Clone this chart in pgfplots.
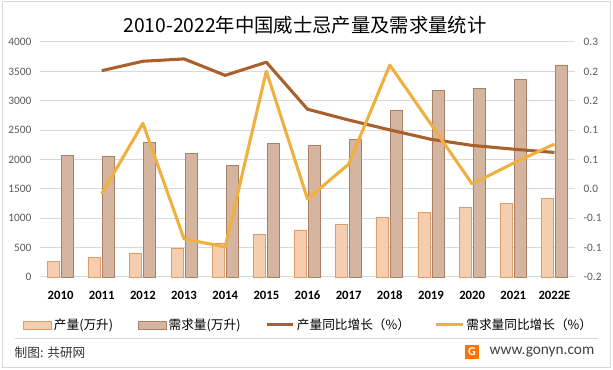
\documentclass[border=0pt]{standalone}
\usepackage{pgfplots}
\pgfplotsset{compat=1.18}
\usepackage{fontspec}
\setmainfont{Carlito}
\newfontfamily\cjk{Noto Sans CJK SC}
\definecolor{prodbar}{HTML}{F5CDAF}
\definecolor{prodbardraw}{HTML}{DE9A68}
\definecolor{dembar}{HTML}{D5B5A0}
\definecolor{dembardraw}{HTML}{A88068}
\definecolor{prodline}{HTML}{A9602A}
\definecolor{demline}{HTML}{F0B040}
\definecolor{gridc}{HTML}{D9D9D9}
\definecolor{tickc}{HTML}{595959}
\pgfplotsset{
  boxlegend/.style={legend image code/.code={\draw[##1] (0pt,-3pt) rectangle (21pt,3pt);}},
  linelegend/.style={legend image code/.code={\draw[##1] (0pt,0pt) -- (20pt,0pt);}},
}
\begin{document}
\begin{tikzpicture}
\useasboundingbox (0pt,0pt) rectangle (459.75pt,277.5pt);
\fill[white] (0pt,0pt) rectangle (459.75pt,277.5pt);
\draw[gridc, line width=0.75pt] (1.5pt,1.5pt) rectangle (457.5pt,276pt);
\node[font=\cjk\fontsize{14.5}{15}\selectfont, text=black] at (228.75pt,258.5pt) {2010-2022年中国威士忌产量及需求量统计};
\begin{axis}[at={(30pt,69.75pt)}, anchor=south west, scale only axis,
  width=401.25pt, height=176.25pt,
  xmin=-0.5, xmax=12.5, ymin=0, ymax=4000,
  ytick={0,500,...,4000},
  xtick={0,...,12},
  xticklabels={2010,2011,2012,2013,2014,2015,2016,2017,2018,2019,2020,2021,2022E},
  axis line style={draw=none}, major tick length=0pt,
  ymajorgrids, grid style={gridc, line width=0.75pt},
  /pgf/number format/assume math mode=true,
  /pgf/number format/set thousands separator={},
  yticklabel style={font=\fontsize{8.5}{9}\selectfont, text=tickc, xshift=-3pt},
  xticklabel style={font=\bfseries\fontsize{9.5}{10}\selectfont, text=black, yshift=-7pt},
  clip=false]
\addplot[ybar, bar width=9pt, bar shift=-5.25pt, fill=prodbar, draw=prodbardraw, line width=0.6pt]
  coordinates {(0,260) (1,330) (2,400) (3,480) (4,580) (5,720) (6,800) (7,900) (8,1010) (9,1100) (10,1180) (11,1250) (12,1330)};
\addplot[ybar, bar width=9pt, bar shift=5.25pt, fill=dembar, draw=dembardraw, line width=0.6pt]
  coordinates {(0,2070) (1,2050) (2,2290) (3,2100) (4,1900) (5,2270) (6,2240) (7,2340) (8,2830) (9,3170) (10,3210) (11,3360) (12,3610)};
\end{axis}
\begin{axis}[at={(30pt,69.75pt)}, anchor=south west, scale only axis,
  width=401.25pt, height=176.25pt,
  xmin=-0.5, xmax=12.5, ymin=-0.2, ymax=0.3,
  xtick=\empty,
  ytick={-0.2,-0.1375,-0.075,-0.0125,0.05,0.1125,0.175,0.2375,0.3},
  yticklabels={-0.2,-0.1,-0.1,0.0,0.1,0.1,0.2,0.2,0.3},
  yticklabel pos=right,
  axis line style={draw=none}, major tick length=0pt,
  /pgf/number format/assume math mode=true,
  yticklabel style={font=\fontsize{8.5}{9}\selectfont, text=tickc, xshift=3pt},
  legend columns=4,
  legend style={at={(-0.032,-0.204)}, anchor=west, draw=none, fill=none, inner sep=0pt,
    font=\cjk\fontsize{9.5}{10}\selectfont, text=black,
    nodes={inner sep=1.5pt},
    /tikz/every even column/.append style={column sep=17pt}},
  clip=false]
\addlegendimage{boxlegend, fill=prodbar, draw=prodbardraw, line width=0.6pt}
\addlegendentry{产量(万升)}
\addlegendimage{boxlegend, fill=dembar, draw=dembardraw, line width=0.6pt}
\addlegendentry{需求量(万升)}
\addplot[prodline, line width=2.3pt, line join=round, linelegend]
  coordinates {(1,0.239) (2,0.259) (3,0.264) (4,0.229) (5,0.257) (6,0.157) (7,0.134) (8,0.113) (9,0.093) (10,0.080) (11,0.072) (12,0.065)};
\addlegendentry{产量同比增长（\%）}
\addplot[demline, line width=2.3pt, line join=round, linelegend]
  coordinates {(1,-0.023) (2,0.127) (3,-0.119) (4,-0.136) (5,0.238) (6,-0.034) (7,0.040) (8,0.251) (9,0.125) (10,-0.002) (11,0.042) (12,0.083)};
\addlegendentry{需求量同比增长（\%）}
\end{axis}
\draw[gridc, line width=0.75pt] (11.25pt,23.25pt) -- (448.5pt,23.25pt);
\node[anchor=west, font=\cjk\fontsize{9.5}{10}\selectfont, text=black!80] at (7.5pt,12.75pt) {制图: 共研网};
\node[anchor=east, font=\fontsize{11.5}{12}\selectfont, text=black!75] at (449.25pt,13.5pt) {www.gonyn.com};
\fill[orange!90!red] (348.75pt,8.25pt) rectangle (359.25pt,18.75pt);
\node[font=\bfseries\fontsize{9}{9}\selectfont, text=white] at (354pt,13.5pt) {G};
\end{tikzpicture}
\end{document}
